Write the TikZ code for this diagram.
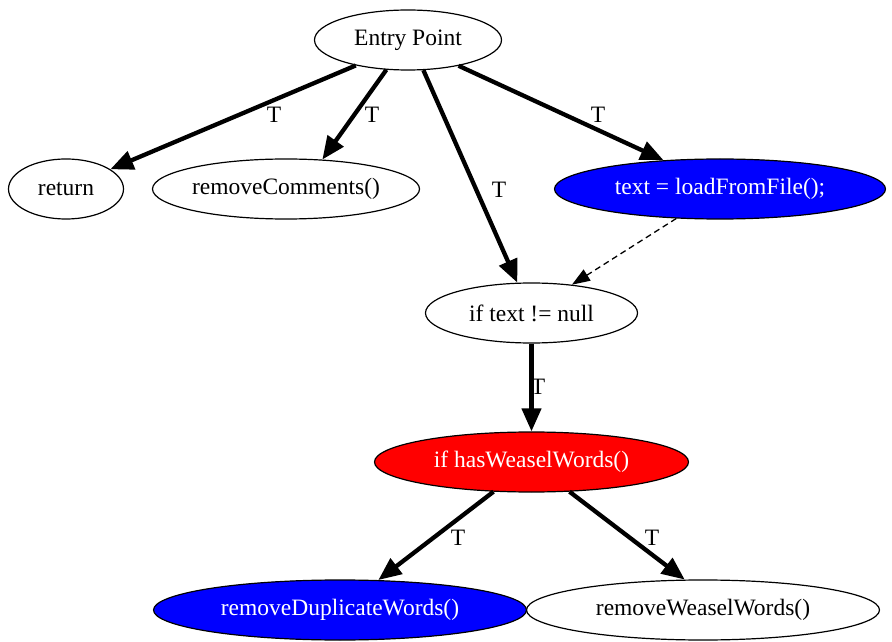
\documentclass[tikz,border=0pt]{standalone}
\usepackage{fontspec}
\setmainfont{Liberation Serif}
\usetikzlibrary{arrows.meta,shapes.geometric}
\definecolor{gvblue}{RGB}{0,0,255}
\definecolor{gvred}{RGB}{255,0,0}
\tikzset{
  st/.style={ellipse, draw=black, line width=1.2pt, inner sep=0pt, minimum height=60pt,
    font=\fontsize{23.5}{28}\selectfont},
  bluest/.style={st, fill=gvblue, text=white},
  redst/.style={st, fill=gvred, text=white},
  edge/.style={line width=4.3pt, -{Triangle[length=23pt,width=19pt]}},
  dashedge/.style={line width=1.3pt, dash pattern=on 6pt off 4pt, -{Triangle[length=18pt,width=13pt]}},
  lbl/.style={inner sep=0pt, font=\fontsize{23.5}{28}\selectfont}
}
\begin{document}
\begin{tikzpicture}[x=1pt,y=1pt]
\useasboundingbox (0,0) rectangle (892,641);
\node[st, minimum width=187pt] (entry) at (408,601) {Entry Point};
\node[st, minimum width=115pt] (ret) at (66,452) {return};
\node[st, minimum width=267pt] (rc) at (286,452) {removeComments()};
\node[bluest, minimum width=331pt] (load) at (720,452) {text = loadFromFile();};
\node[st, minimum width=212pt] (iftext) at (531.5,328) {if text != null};
\node[redst, minimum width=314pt] (hw) at (531.5,179) {if hasWeaselWords()};
\node[bluest, minimum width=373pt] (rd) at (340,31) {removeDuplicateWords()};
\node[st, minimum width=353pt] (rw) at (703,31) {removeWeaselWords()};

\draw[edge] (entry.206) -- (ret.24);
\draw[edge] (entry.234) -- (rc.39);
\draw[edge] (entry.297) -- (iftext.115);
\draw[edge] (entry.333) -- (load.153);
\draw[dashedge] (load.214) -- (iftext.35);
\draw[edge] (iftext.south) -- (hw.north);
\draw[edge] (hw.218) -- (rd.38);
\draw[edge] (hw.322) -- (rw.121);

\node[lbl] (t1) at (274,526) {T};
\node[lbl] (t2) at (372,526) {T};
\node[lbl] (t3) at (499,451) {T};
\node[lbl] (t4) at (598,526) {T};
\node[lbl] (t5) at (538,254) {T};
\node[lbl] (t6) at (458,103) {T};
\node[lbl] (t7) at (652,103) {T};
\end{tikzpicture}
\end{document}
